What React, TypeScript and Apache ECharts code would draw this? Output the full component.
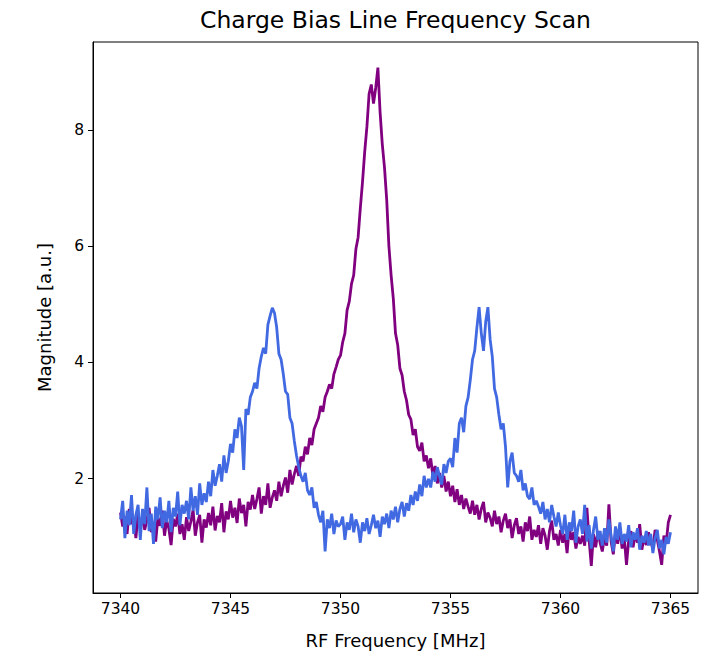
import React, { useEffect, useRef } from "react";
import * as echarts from "echarts";

// Frequency sweep grid (MHz)
const FREQ_START = 7340;
const FREQ_STEP = 0.1;

// Measured magnitude, single resonance trace
const magnitudePurple = [
  1.42, 1.18, 1.35, 1.05, 1.48, 1.22, 1.31, 0.98, 1.40, 1.15,
  1.36, 1.12, 1.29, 1.50, 1.08, 1.24, 0.92, 1.33, 1.19, 1.45,
  1.02, 1.28, 1.14, 0.86, 1.31, 1.18, 1.40, 1.05, 1.22, 0.95,
  1.34, 1.10, 1.27, 1.46, 1.02, 1.25, 1.38, 0.90, 1.30, 1.16,
  1.41, 1.20, 1.52, 1.11, 1.36, 1.25, 1.58, 1.08, 1.44, 1.30,
  1.62, 1.33, 1.50, 1.24, 1.66, 1.41, 1.55, 1.18, 1.60, 1.47,
  1.72, 1.48, 1.65, 1.85, 1.40, 1.70, 1.55, 1.92, 1.50, 1.68,
  1.80, 1.62, 1.95, 1.70, 1.88, 2.02, 1.76, 2.15, 1.90, 2.08,
  2.22, 2.05, 2.38, 2.30, 2.55, 2.42, 2.70, 2.58, 2.85, 2.95,
  3.05, 3.25, 3.15, 3.40, 3.50, 3.62, 3.55, 3.80, 3.92, 4.05,
  4.12, 4.35, 4.50, 4.90, 5.05, 5.35, 5.50, 5.95, 6.15, 6.65,
  7.10, 7.62, 8.05, 8.62, 8.78, 8.45, 8.72, 9.07, 8.30, 7.75,
  7.35, 6.80, 6.00, 5.50, 5.10, 4.50, 4.30, 3.90, 3.78, 3.50,
  3.35, 3.10, 3.02, 2.75, 2.85, 2.55, 2.48, 2.62, 2.30, 2.40,
  2.18, 2.35, 2.05, 2.22, 1.92, 2.10, 1.85, 2.05, 1.78, 1.95,
  1.70, 1.88, 1.60, 1.82, 1.55, 1.72, 1.48, 1.66, 1.52, 1.40,
  1.62, 1.38, 1.55, 1.30, 1.48, 1.60, 1.25, 1.42, 1.33, 1.18,
  1.45, 1.22, 1.35, 1.08, 1.28, 1.40, 1.15, 1.30, 0.98, 1.20,
  1.32, 1.05, 1.18, 0.92, 1.25, 1.10, 1.35, 0.95, 1.12, 1.00,
  1.20, 0.88, 1.15, 1.02, 0.78, 1.10, 1.28, 0.95, 1.05, 0.85,
  1.12, 0.90, 1.05, 0.72, 1.18, 0.95, 1.08, 0.80, 1.00, 0.88,
  1.02, 0.85, 1.50, 0.95, 0.50, 1.05, 0.82, 1.10, 0.90, 0.75,
  1.00, 0.85, 1.56, 0.92, 0.70, 1.08, 0.88, 1.15, 0.80, 0.98,
  0.52, 0.95, 1.10, 0.82, 1.05, 0.90, 1.22, 0.78, 1.00, 0.86,
  1.08, 0.92, 0.80, 1.12, 0.95, 0.75, 0.52, 1.02, 0.88, 1.25,
  1.38,
];

// Measured magnitude, split (double-peak) trace
const magnitudeBlue = [
  1.30, 1.62, 0.98, 1.45, 1.20, 1.72, 1.05, 1.38, 1.55, 0.95,
  1.48, 1.22, 1.85, 1.10, 1.40, 0.88, 1.52, 1.30, 1.68, 1.15,
  1.45, 1.25, 1.62, 1.08, 1.50, 1.35, 1.78, 1.20, 1.55, 1.40,
  1.62, 1.30, 1.85, 1.45, 1.70, 1.38, 1.92, 1.55, 1.75, 1.60,
  1.95, 1.70, 2.15, 1.88, 2.05, 2.25, 1.95, 2.40, 2.10, 2.30,
  2.60, 2.45, 2.85, 2.70, 3.05, 2.90, 2.15, 3.20, 3.10, 3.40,
  3.50, 3.65, 3.55, 3.90, 4.10, 4.25, 4.15, 4.65, 4.80, 4.94,
  4.85, 4.60, 4.15, 4.05, 3.80, 3.50, 3.45, 3.05, 2.95, 2.65,
  2.40, 2.20, 2.05, 1.95, 2.10, 1.80, 1.72, 1.85, 1.50, 1.60,
  1.38, 1.25, 1.45, 0.75, 1.30, 1.15, 1.40, 1.05, 1.28, 1.18,
  1.22, 1.35, 0.95, 1.25, 1.12, 1.40, 1.08, 1.30, 1.18, 0.90,
  1.25, 1.10, 1.32, 1.05, 1.20, 1.38, 1.15, 1.28, 1.00, 1.35,
  1.22, 1.40, 1.15, 1.45, 1.30, 1.52, 1.25, 1.48, 1.60, 1.35,
  1.58, 1.45, 1.72, 1.55, 1.78, 1.62, 1.90, 1.70, 2.05, 1.85,
  2.00, 1.85, 2.12, 1.95, 2.20, 2.05, 1.90, 2.25, 2.10, 2.30,
  2.35, 2.20, 2.70, 2.45, 2.95, 3.05, 2.80, 3.25, 3.40, 3.70,
  4.05, 4.20, 4.60, 4.95, 4.50, 4.20, 4.70, 4.95, 4.40, 4.10,
  3.55, 3.40, 3.10, 2.85, 2.95, 2.55, 1.85, 2.30, 2.45, 2.10,
  2.05, 1.95, 2.15, 1.80, 1.92, 1.70, 1.65, 1.85, 1.55, 1.62,
  1.52, 1.40, 1.60, 1.30, 1.48, 1.25, 1.55, 1.35, 1.18, 1.42,
  1.20, 1.05, 1.38, 0.95, 1.25, 1.10, 1.45, 0.90, 1.18, 1.30,
  1.05, 1.55, 0.92, 1.20, 0.80, 1.12, 1.35, 0.95, 1.10, 0.85,
  1.15, 0.90, 1.30, 1.02, 0.75, 1.18, 0.95, 1.25, 0.88, 1.05,
  0.92, 1.20, 0.82, 1.08, 0.95, 1.15, 0.78, 1.02, 0.90, 1.10,
  0.85, 1.05, 0.72, 0.98, 1.12, 0.80, 0.95, 0.70, 1.00, 0.88,
  1.08,
];

const xTicks = [7340, 7345, 7350, 7355, 7360, 7365];
const yTicks = [2, 4, 6, 8];

const FONT = "DejaVu Sans";

function toPairs(values: number[]): [number, number][] {
  return values.map((v, i) => [FREQ_START + i * FREQ_STEP, v]);
}

export default function App() {
  const ref = useRef<HTMLDivElement>(null);

  useEffect(() => {
    document.body.style.margin = "0";
    if (!ref.current) return;
    const chart = echarts.init(ref.current, undefined, { renderer: "svg" });

    const axisCommon = {
      axisLine: { show: true, onZero: false, lineStyle: { color: "#000", width: 1 } },
      axisTick: { show: true, inside: false, length: 5, lineStyle: { color: "#000", width: 1 } },
      splitLine: { show: false },
      nameTextStyle: { color: "#000", fontFamily: FONT, fontSize: 18 },
    };

    chart.setOption({
      animation: false,
      backgroundColor: "#fff",
      grid: {
        left: 93,
        top: 42,
        right: 11,
        bottom: 65,
        show: true,
        borderColor: "#000",
        borderWidth: 1,
        containLabel: false,
      },
      graphic: [
        {
          type: "text",
          x: 395.5,
          y: 20,
          style: {
            text: "Charge Bias Line Frequency Scan",
            fill: "#000",
            font: `23.5px "${FONT}"`,
            textAlign: "center",
            textVerticalAlign: "middle",
          },
        },
      ],
      xAxis: {
        type: "value",
        min: 7338.75,
        max: 7366.25,
        name: "RF Frequency [MHz]",
        nameLocation: "middle",
        nameGap: 38,
        ...axisCommon,
        axisTick: { ...axisCommon.axisTick, customValues: xTicks },
        axisLabel: {
          customValues: xTicks,
          formatter: (v: number) => String(v),
          color: "#000",
          fontFamily: FONT,
          fontSize: 15.5,
          margin: 8,
        },
      },
      yAxis: {
        type: "value",
        min: 0.035,
        max: 9.51,
        name: "Magnitude [a.u.]",
        nameLocation: "middle",
        nameGap: 40,
        ...axisCommon,
        axisTick: { ...axisCommon.axisTick, customValues: yTicks },
        axisLabel: {
          customValues: yTicks,
          formatter: (v: number) => String(v),
          color: "#000",
          fontFamily: FONT,
          fontSize: 15.5,
          margin: 9,
        },
      },
      series: [
        {
          type: "line",
          data: toPairs(magnitudePurple),
          showSymbol: false,
          symbol: "none",
          lineStyle: { color: "#800080", width: 2.8 },
          itemStyle: { color: "#800080" },
          clip: true,
          z: 2,
        },
        {
          type: "line",
          data: toPairs(magnitudeBlue),
          showSymbol: false,
          symbol: "none",
          lineStyle: { color: "#4169E1", width: 2.8 },
          itemStyle: { color: "#4169E1" },
          clip: true,
          z: 3,
        },
      ],
    });

    return () => chart.dispose();
  }, []);

  return <div ref={ref} style={{ width: 709, height: 658 }} />;
}
